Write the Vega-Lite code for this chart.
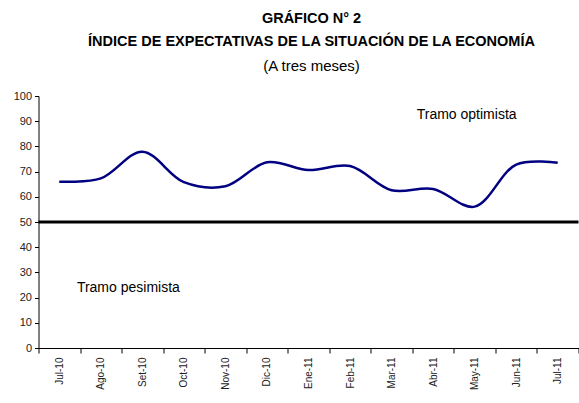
{
  "$schema": "https://vega.github.io/schema/vega-lite/v6.json",
  "width": 540,
  "height": 252,
  "autosize": {"type": "none"},
  "padding": {"left": 38.5, "top": 96, "right": 0.5, "bottom": 55},
  "background": "white",
  "config": {"view": {"stroke": null}, "font": "Liberation Sans"},
  "title": {
    "text": ["GRÁFICO N° 2", "ÍNDICE DE EXPECTATIVAS DE LA SITUACIÓN DE LA ECONOMÍA"],
    "subtitle": "(A tres meses)",
    "anchor": "middle",
    "dx": 3,
    "font": "Liberation Sans",
    "fontSize": 14.5,
    "fontWeight": "bold",
    "lineHeight": 23,
    "color": "#000000",
    "subtitleFont": "Liberation Sans",
    "subtitleFontSize": 15,
    "subtitleColor": "#000000",
    "subtitlePadding": 10,
    "offset": 15
  },
  "datasets": {
    "serie": [
      {"mes": "Jul-10", "indice": 66},
      {"mes": "Ago-10", "indice": 67.3},
      {"mes": "Set-10", "indice": 77.9},
      {"mes": "Oct-10", "indice": 65.8},
      {"mes": "Nov-10", "indice": 64.2},
      {"mes": "Dic-10", "indice": 73.7},
      {"mes": "Ene-11", "indice": 70.6},
      {"mes": "Feb-11", "indice": 72.2},
      {"mes": "Mar-11", "indice": 62.6},
      {"mes": "Abr-11", "indice": 63.1},
      {"mes": "May-11", "indice": 56.1},
      {"mes": "Jun-11", "indice": 72.8},
      {"mes": "Jul-11", "indice": 73.5}
    ],
    "umbral": [{"nivel": 50}],
    "optimista": [{"mes": "May-11", "valor": 92.3, "texto": "Tramo optimista"}],
    "pesimista": [{"mes": "Set-10", "valor": 23.7, "texto": "Tramo pesimista"}]
  },
  "layer": [
    {
      "data": {"name": "serie"},
      "mark": {"type": "line", "color": "#000080", "strokeWidth": 2.5, "interpolate": "catmull-rom"},
      "encoding": {
        "x": {
          "field": "mes", "type": "ordinal", "sort": null,
          "scale": {"paddingInner": 0, "paddingOuter": 0},
          "axis": {
            "title": null, "labelAngle": -90, "labelFontSize": 10, "labelColor": "#222222",
            "domainColor": "#000000", "tickColor": "#000000", "tickBand": "extent", "tickSize": 5,
            "labelPadding": 4, "domainWidth": 1
          }
        },
        "y": {
          "field": "indice", "type": "quantitative",
          "scale": {"domain": [0, 100], "nice": false},
          "axis": {
            "title": null, "values": [0, 10, 20, 30, 40, 50, 60, 70, 80, 90, 100],
            "grid": false, "labelFontSize": 11, "labelColor": "#222222", "labelOverlap": false,
            "labelFlush": false,
            "domainColor": "#000000", "tickColor": "#000000", "tickSize": 4, "labelPadding": 3
          }
        }
      }
    },
    {
      "data": {"name": "umbral"},
      "mark": {"type": "rule", "color": "#000000", "strokeWidth": 3},
      "encoding": {
        "y": {
          "field": "nivel", "type": "quantitative",
          "scale": {"domain": [0, 100], "nice": false},
          "axis": {
            "title": null, "values": [0, 10, 20, 30, 40, 50, 60, 70, 80, 90, 100],
            "grid": false, "labelFontSize": 11, "labelColor": "#222222", "labelOverlap": false,
            "labelFlush": false,
            "domainColor": "#000000", "tickColor": "#000000", "tickSize": 4, "labelPadding": 3
          }
        }
      }
    },
    {
      "data": {"name": "optimista"},
      "mark": {"type": "text", "fontSize": 14, "color": "#000000", "align": "center", "baseline": "middle", "dx": -8},
      "encoding": {
        "x": {"field": "mes", "type": "ordinal", "sort": null},
        "y": {
          "field": "valor", "type": "quantitative",
          "scale": {"domain": [0, 100], "nice": false},
          "axis": {
            "title": null, "values": [0, 10, 20, 30, 40, 50, 60, 70, 80, 90, 100],
            "grid": false, "labelFontSize": 11, "labelColor": "#222222", "labelOverlap": false,
            "labelFlush": false,
            "domainColor": "#000000", "tickColor": "#000000", "tickSize": 4, "labelPadding": 3
          }
        },
        "text": {"field": "texto"}
      }
    },
    {
      "data": {"name": "pesimista"},
      "mark": {"type": "text", "fontSize": 14, "color": "#000000", "align": "center", "baseline": "middle", "dx": -14},
      "encoding": {
        "x": {"field": "mes", "type": "ordinal", "sort": null},
        "y": {
          "field": "valor", "type": "quantitative",
          "scale": {"domain": [0, 100], "nice": false},
          "axis": {
            "title": null, "values": [0, 10, 20, 30, 40, 50, 60, 70, 80, 90, 100],
            "grid": false, "labelFontSize": 11, "labelColor": "#222222", "labelOverlap": false,
            "labelFlush": false,
            "domainColor": "#000000", "tickColor": "#000000", "tickSize": 4, "labelPadding": 3
          }
        },
        "text": {"field": "texto"}
      }
    }
  ]
}
